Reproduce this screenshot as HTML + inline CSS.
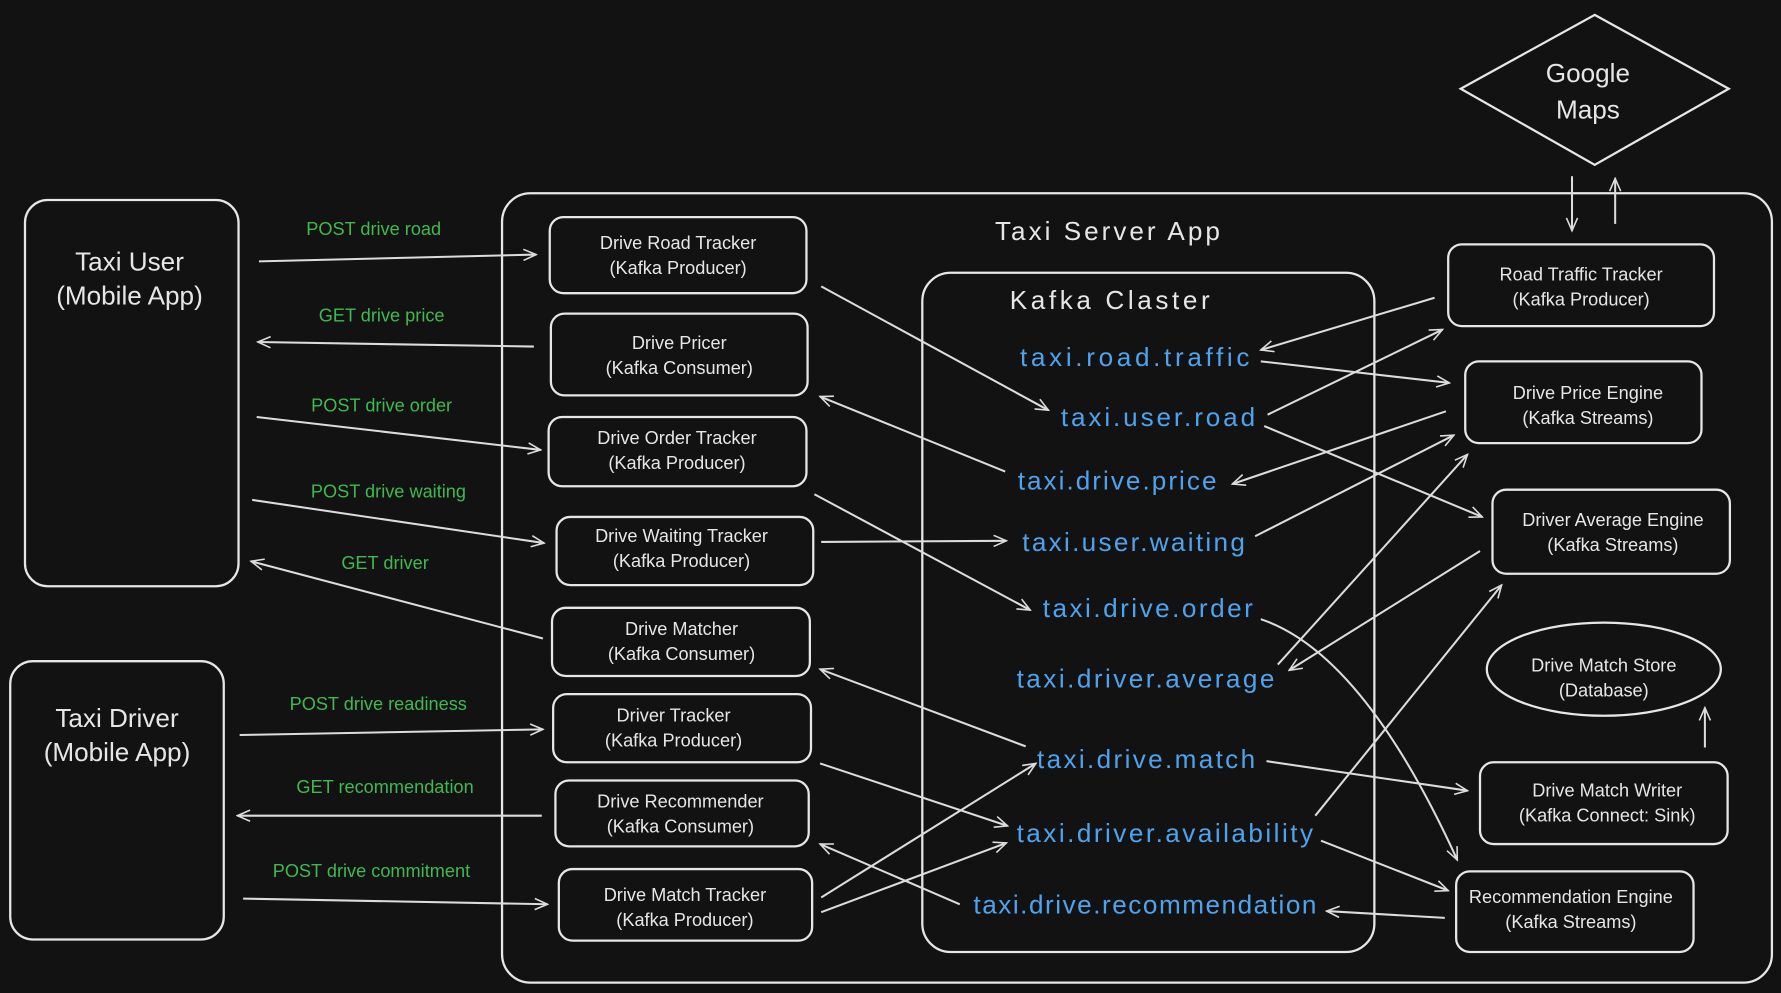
<!DOCTYPE html>
<html><head><meta charset="utf-8"><style>
html,body{margin:0;padding:0;background:#121212;}
svg{display:block}
text{font-family:"Liberation Sans",sans-serif;}
.b{fill:none;stroke:#e6e6e6;stroke-width:2}
.w{fill:#e6e6e6;font-size:16px;text-anchor:middle}
.t{fill:#e6e6e6;font-size:23px;text-anchor:middle}
.g{fill:#3fb950;font-size:16px;text-anchor:middle}
.k{fill:#4da3ee;font-size:23px}
.a{stroke:#dcdcdc;stroke-width:1.8;fill:none;marker-end:url(#m)}
</style></head><body>
<svg width="1781" height="993" viewBox="0 0 1568 874" xmlns="http://www.w3.org/2000/svg">
<defs><marker id="m" viewBox="0 0 20 20" refX="18" refY="10" markerWidth="14" markerHeight="14" orient="auto" markerUnits="userSpaceOnUse"><polyline points="2,3 18,10 2,17" fill="none" stroke="#dcdcdc" stroke-width="2"/></marker></defs>
<rect width="1568" height="874" fill="#121212"/>
<rect class="b" x="22" y="176" width="188" height="340" rx="20"/>
<text class="t" x="114" y="238">Taxi User</text><text class="t" x="114" y="268">(Mobile App)</text>
<rect class="b" x="9" y="582" width="188" height="245" rx="20"/>
<text class="t" x="103" y="640">Taxi Driver</text><text class="t" x="103" y="670">(Mobile App)</text>
<rect class="b" x="442" y="170" width="1118" height="695" rx="25"/>
<text class="t" x="975" y="211" textLength="198">Taxi Server App</text>
<rect class="b" x="812" y="240" width="398" height="598" rx="25"/>
<text class="t" x="977" y="272" textLength="176">Kafka Claster</text>
<polygon class="b" points="1404,13 1522,78 1404,145 1286,78"/>
<text class="t" x="1398" y="72">Google</text><text class="t" x="1398" y="104">Maps</text>

<g>
<rect class="b" x="484" y="191" width="226" height="67" rx="12"/><text class="w" x="597" y="219">Drive Road Tracker</text><text class="w" x="597" y="241">(Kafka Producer)</text>
<rect class="b" x="485" y="276" width="226" height="72" rx="12"/><text class="w" x="598" y="307">Drive Pricer</text><text class="w" x="598" y="329">(Kafka Consumer)</text>
<rect class="b" x="483" y="367" width="227" height="61" rx="12"/><text class="w" x="596" y="391">Drive Order Tracker</text><text class="w" x="596" y="413">(Kafka Producer)</text>
<rect class="b" x="490" y="455" width="226" height="60" rx="12"/><text class="w" x="600" y="477">Drive Waiting Tracker</text><text class="w" x="600" y="499">(Kafka Producer)</text>
<rect class="b" x="486" y="535" width="227" height="60" rx="12"/><text class="w" x="600" y="559">Drive Matcher</text><text class="w" x="600" y="581">(Kafka Consumer)</text>
<rect class="b" x="487" y="611" width="227" height="60" rx="12"/><text class="w" x="593" y="635">Driver Tracker</text><text class="w" x="593" y="657">(Kafka Producer)</text>
<rect class="b" x="489" y="687" width="223" height="58" rx="12"/><text class="w" x="599" y="711">Drive Recommender</text><text class="w" x="599" y="733">(Kafka Consumer)</text>
<rect class="b" x="492" y="765" width="223" height="63" rx="12"/><text class="w" x="603" y="793">Drive Match Tracker</text><text class="w" x="603" y="815">(Kafka Producer)</text>

<rect class="b" x="1275" y="215" width="234" height="72" rx="12"/><text class="w" x="1392" y="247">Road Traffic Tracker</text><text class="w" x="1392" y="269">(Kafka Producer)</text>
<rect class="b" x="1290" y="318" width="208" height="72" rx="12"/><text class="w" x="1398" y="351">Drive Price Engine</text><text class="w" x="1398" y="373">(Kafka Streams)</text>
<rect class="b" x="1314" y="431" width="209" height="74" rx="12"/><text class="w" x="1420" y="463">Driver Average Engine</text><text class="w" x="1420" y="485">(Kafka Streams)</text>
<ellipse class="b" cx="1412" cy="589" rx="103" ry="41"/><text class="w" x="1412" y="591">Drive Match Store</text><text class="w" x="1412" y="613">(Database)</text>
<rect class="b" x="1303" y="671" width="218" height="72" rx="12"/><text class="w" x="1415" y="701">Drive Match Writer</text><text class="w" x="1415" y="723">(Kafka Connect: Sink)</text>
<rect class="b" x="1282" y="767" width="209" height="71" rx="12"/><text class="w" x="1383" y="795">Recommendation Engine</text><text class="w" x="1383" y="817">(Kafka Streams)</text>
</g>

<text class="k" x="898" y="322" textLength="202">taxi.road.traffic</text>
<text class="k" x="934" y="375" textLength="171">taxi.user.road</text>
<text class="k" x="896" y="431" textLength="175">taxi.drive.price</text>
<text class="k" x="900" y="485" textLength="196">taxi.user.waiting</text>
<text class="k" x="918" y="543" textLength="185">taxi.drive.order</text>
<text class="k" x="895" y="605" textLength="227">taxi.driver.average</text>
<text class="k" x="913" y="676" textLength="192">taxi.drive.match</text>
<text class="k" x="895" y="741" textLength="261">taxi.driver.availability</text>
<text class="k" x="857" y="804" textLength="302">taxi.drive.recommendation</text>

<text class="g" x="329" y="207">POST drive road</text>
<text class="g" x="336" y="283">GET drive price</text>
<text class="g" x="336" y="362">POST drive order</text>
<text class="g" x="342" y="438">POST drive waiting</text>
<text class="g" x="339" y="501">GET driver</text>
<text class="g" x="333" y="625">POST drive readiness</text>
<text class="g" x="339" y="698">GET recommendation</text>
<text class="g" x="327" y="772">POST drive commitment</text>

<line class="a" x1="228" y1="230" x2="472" y2="224"/>
<line class="a" x1="470" y1="305" x2="227" y2="301"/>
<line class="a" x1="226" y1="367" x2="476" y2="396"/>
<line class="a" x1="222" y1="440" x2="479" y2="478"/>
<line class="a" x1="478" y1="562" x2="221" y2="494"/>
<line class="a" x1="211" y1="647" x2="478" y2="642"/>
<line class="a" x1="477" y1="718" x2="209" y2="718"/>
<line class="a" x1="214" y1="791" x2="482" y2="796"/>

<line class="a" x1="723" y1="252" x2="923" y2="361"/>
<line class="a" x1="885" y1="415" x2="722" y2="349"/>
<line class="a" x1="717" y1="435" x2="907" y2="537"/>
<line class="a" x1="723" y1="477" x2="886" y2="476"/>
<line class="a" x1="903" y1="657" x2="722" y2="589"/>
<line class="a" x1="722" y1="672" x2="887" y2="727"/>
<line class="a" x1="845" y1="796" x2="722" y2="743"/>
<line class="a" x1="723" y1="790" x2="912" y2="672"/>
<line class="a" x1="723" y1="803" x2="886" y2="742"/>

<line class="a" x1="1263" y1="262" x2="1110" y2="308"/>
<line class="a" x1="1110" y1="318" x2="1276" y2="337"/>
<line class="a" x1="1116" y1="365" x2="1270" y2="290"/>
<line class="a" x1="1113" y1="375" x2="1305" y2="455"/>
<line class="a" x1="1273" y1="362" x2="1085" y2="426"/>
<line class="a" x1="1105" y1="472" x2="1280" y2="383"/>
<path class="a" d="M1110,545 Q1200,575 1283,757"/>
<line class="a" x1="1125" y1="585" x2="1292" y2="400"/>
<line class="a" x1="1303" y1="485" x2="1135" y2="590"/>
<line class="a" x1="1115" y1="670" x2="1292" y2="696"/>
<line class="a" x1="1158" y1="718" x2="1322" y2="515"/>
<line class="a" x1="1163" y1="740" x2="1275" y2="784"/>
<line class="a" x1="1272" y1="808" x2="1168" y2="802"/>
<line class="a" x1="1501" y1="658" x2="1501" y2="623"/>
<line class="a" x1="1384" y1="155" x2="1384" y2="203"/>
<line class="a" x1="1422" y1="197" x2="1422" y2="157"/>
</svg>
</body></html>
